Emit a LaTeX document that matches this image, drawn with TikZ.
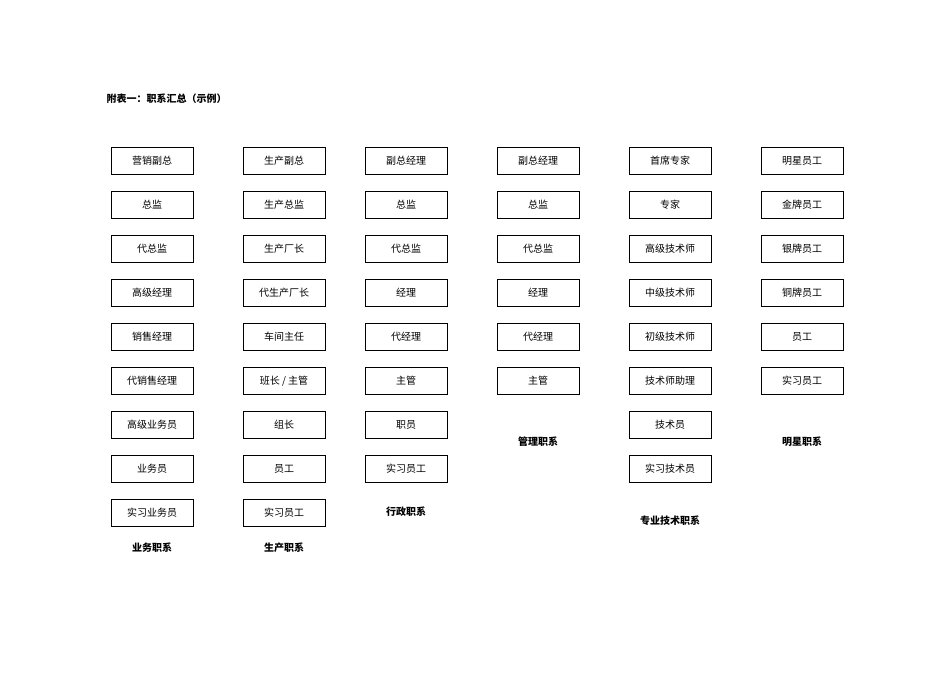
\documentclass[tikz,border=0pt]{standalone}
\usepackage{fontspec}
\newfontfamily\cjk{Noto Sans CJK SC}
\begin{document}
\begin{tikzpicture}[x=1pt,y=-1pt,
  rank/.style={draw,line width=0.6pt,minimum width=82pt,minimum height=27pt,inner sep=0pt,font=\cjk\fontsize{10}{12}\selectfont},
  lab/.style={font=\cjk\bfseries\fontsize{10}{12}\selectfont}]
\useasboundingbox (0,0) rectangle (950,672);
\node[lab,anchor=west] (title) at (103,99) {附表一：职系汇总（示例）};
\foreach \col/\x/\list in {
 a/152/{营销副总,总监,代总监,高级经理,销售经理,代销售经理,高级业务员,业务员,实习业务员},
 b/284/{生产副总,生产总监,生产厂长,代生产厂长,车间主任,班长 / 主管,组长,员工,实习员工},
 c/406/{副总经理,总监,代总监,经理,代经理,主管,职员,实习员工},
 d/538/{副总经理,总监,代总监,经理,代经理,主管},
 e/670/{首席专家,专家,高级技术师,中级技术师,初级技术师,技术师助理,技术员,实习技术员},
 f/802/{明星员工,金牌员工,银牌员工,铜牌员工,员工,实习员工}}{
  \foreach \t [count=\i] in \list {
    \node[rank] (\col\i) at (\x,{161+44*(\i-1)}) {\t};
  }
}
\node[lab] (la) at (152,548) {业务职系};
\node[lab] (lb) at (284,548) {生产职系};
\node[lab] (lc) at (406,512) {行政职系};
\node[lab] (ld) at (538,442) {管理职系};
\node[lab] (le) at (670,521) {专业技术职系};
\node[lab] (lf) at (802,442) {明星职系};
\end{tikzpicture}
\end{document}
